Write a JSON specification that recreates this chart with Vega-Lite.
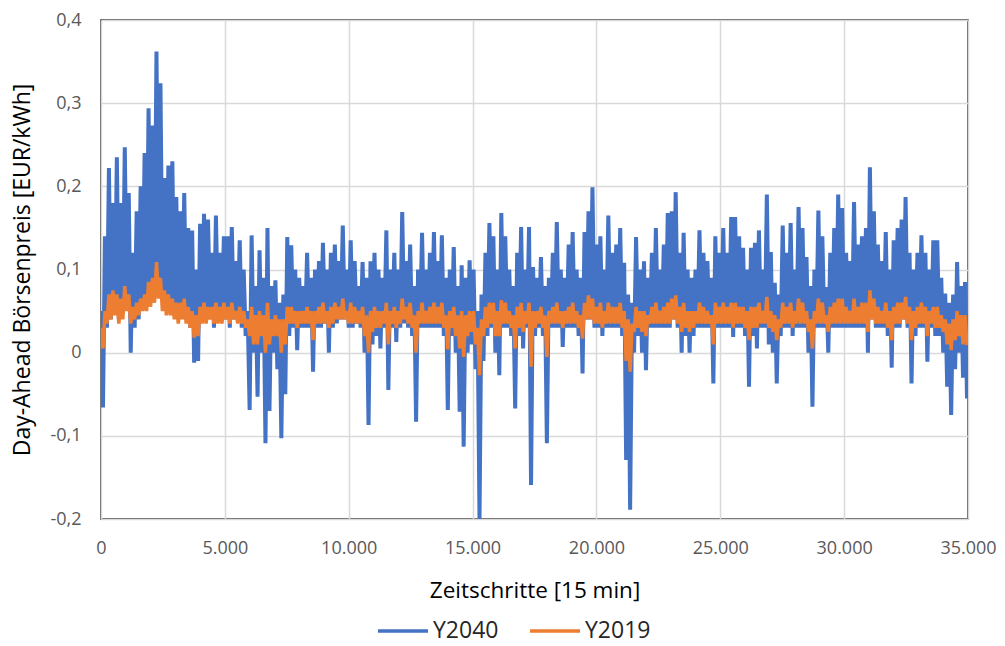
{
"$schema": "https://vega.github.io/schema/vega-lite/v6.json",
"width": 867, "height": 499,
"autosize": {"type": "none"},
"padding": {"left": 101, "top": 20, "right": 37, "bottom": 127},
"background": "white",
"config": {"view": {"stroke": "#262626", "strokeWidth": 1.5}, "font": "Open Sans"},
"data": {"values": [
{"t":0,"a":0.05,"b":0.03},{"t":80,"a":-0.066,"b":0.005},{"t":160,"a":0.14,"b":0.05},{"t":240,"a":0.03,"b":0.035},{"t":320,"a":0.222,"b":0.07},{"t":400,"a":0.04,"b":0.04},{"t":480,"a":0.18,"b":0.075},{"t":560,"a":0.05,"b":0.045},{"t":640,"a":0.235,"b":0.07},{"t":720,"a":0.04,"b":0.035},
{"t":800,"a":0.18,"b":0.065},{"t":880,"a":0.05,"b":0.04},{"t":960,"a":0.247,"b":0.08},{"t":1040,"a":0.06,"b":0.05},{"t":1120,"a":0.192,"b":0.07},{"t":1200,"a":0.0,"b":0.035},{"t":1280,"a":0.12,"b":0.055},{"t":1360,"a":0.03,"b":0.04},{"t":1440,"a":0.17,"b":0.06},{"t":1520,"a":0.04,"b":0.045},
{"t":1600,"a":0.2,"b":0.065},{"t":1680,"a":0.06,"b":0.05},{"t":1760,"a":0.24,"b":0.07},{"t":1840,"a":0.06,"b":0.05},{"t":1920,"a":0.294,"b":0.085},{"t":2000,"a":0.07,"b":0.055},{"t":2080,"a":0.273,"b":0.09},{"t":2160,"a":0.08,"b":0.06},{"t":2240,"a":0.362,"b":0.109},{"t":2320,"a":0.09,"b":0.065},
{"t":2400,"a":0.324,"b":0.09},{"t":2480,"a":0.07,"b":0.05},{"t":2560,"a":0.21,"b":0.075},{"t":2640,"a":0.05,"b":0.045},{"t":2720,"a":0.225,"b":0.07},{"t":2800,"a":0.06,"b":0.045},{"t":2880,"a":0.23,"b":0.065},{"t":2960,"a":0.05,"b":0.04},{"t":3040,"a":0.187,"b":0.06},{"t":3120,"a":0.04,"b":0.035},
{"t":3200,"a":0.17,"b":0.06},{"t":3280,"a":0.05,"b":0.04},{"t":3360,"a":0.192,"b":0.065},{"t":3440,"a":0.04,"b":0.035},{"t":3520,"a":0.15,"b":0.055},{"t":3600,"a":0.03,"b":0.03},{"t":3680,"a":0.147,"b":0.05},{"t":3760,"a":-0.012,"b":0.018},{"t":3840,"a":0.1,"b":0.045},{"t":3920,"a":-0.01,"b":0.02},
{"t":4000,"a":0.155,"b":0.055},{"t":4080,"a":0.04,"b":0.035},{"t":4160,"a":0.167,"b":0.06},{"t":4240,"a":0.04,"b":0.035},{"t":4320,"a":0.16,"b":0.055},{"t":4400,"a":0.05,"b":0.04},{"t":4480,"a":0.12,"b":0.055},{"t":4560,"a":0.03,"b":0.035},{"t":4640,"a":0.165,"b":0.06},{"t":4720,"a":0.04,"b":0.035},
{"t":4800,"a":0.12,"b":0.055},{"t":4880,"a":0.04,"b":0.035},{"t":4960,"a":0.14,"b":0.06},{"t":5040,"a":0.04,"b":0.04},{"t":5120,"a":0.14,"b":0.055},{"t":5200,"a":0.03,"b":0.035},{"t":5280,"a":0.151,"b":0.06},{"t":5360,"a":0.04,"b":0.04},{"t":5440,"a":0.11,"b":0.05},{"t":5520,"a":0.04,"b":0.035},
{"t":5600,"a":0.135,"b":0.055},{"t":5680,"a":0.03,"b":0.035},{"t":5760,"a":0.1,"b":0.05},{"t":5840,"a":0.02,"b":0.03},{"t":5920,"a":0.05,"b":0.04},{"t":6000,"a":-0.069,"b":0.02},{"t":6080,"a":0.141,"b":0.055},{"t":6160,"a":0.0,"b":0.01},{"t":6240,"a":0.08,"b":0.045},{"t":6320,"a":-0.053,"b":0.01},
{"t":6400,"a":0.123,"b":0.05},{"t":6480,"a":0.0,"b":0.02},{"t":6560,"a":0.09,"b":0.045},{"t":6640,"a":-0.109,"b":0.0},{"t":6720,"a":0.15,"b":0.06},{"t":6800,"a":-0.07,"b":0.01},{"t":6880,"a":0.08,"b":0.04},{"t":6960,"a":0.0,"b":0.02},{"t":7040,"a":0.087,"b":0.045},{"t":7120,"a":-0.02,"b":0.02},
{"t":7200,"a":0.06,"b":0.04},{"t":7280,"a":-0.103,"b":0.0},{"t":7360,"a":0.07,"b":0.04},{"t":7440,"a":-0.05,"b":0.01},{"t":7520,"a":0.139,"b":0.055},{"t":7600,"a":0.02,"b":0.035},{"t":7680,"a":0.129,"b":0.055},{"t":7760,"a":0.03,"b":0.035},{"t":7840,"a":0.1,"b":0.05},{"t":7920,"a":0.003,"b":0.03},
{"t":8000,"a":0.09,"b":0.05},{"t":8080,"a":0.03,"b":0.035},{"t":8160,"a":0.08,"b":0.05},{"t":8240,"a":0.03,"b":0.035},{"t":8320,"a":0.12,"b":0.055},{"t":8400,"a":0.03,"b":0.035},{"t":8480,"a":0.09,"b":0.05},{"t":8560,"a":-0.023,"b":0.015},{"t":8640,"a":0.1,"b":0.05},{"t":8720,"a":0.03,"b":0.035},
{"t":8800,"a":0.11,"b":0.055},{"t":8880,"a":0.03,"b":0.035},{"t":8960,"a":0.132,"b":0.06},{"t":9040,"a":0.035,"b":0.035},{"t":9120,"a":0.1,"b":0.05},{"t":9200,"a":0.0,"b":0.03},{"t":9280,"a":0.12,"b":0.055},{"t":9360,"a":0.03,"b":0.035},{"t":9440,"a":0.13,"b":0.06},{"t":9520,"a":0.035,"b":0.04},
{"t":9600,"a":0.11,"b":0.055},{"t":9680,"a":0.04,"b":0.04},{"t":9760,"a":0.153,"b":0.065},{"t":9840,"a":0.04,"b":0.04},{"t":9920,"a":0.1,"b":0.05},{"t":10000,"a":0.03,"b":0.035},{"t":10080,"a":0.135,"b":0.06},{"t":10160,"a":0.03,"b":0.035},{"t":10240,"a":0.11,"b":0.055},{"t":10320,"a":0.035,"b":0.035},
{"t":10400,"a":0.08,"b":0.05},{"t":10480,"a":0.03,"b":0.035},{"t":10560,"a":0.109,"b":0.055},{"t":10640,"a":0.0,"b":0.02},{"t":10720,"a":0.09,"b":0.045},{"t":10800,"a":-0.087,"b":0.0},{"t":10880,"a":0.11,"b":0.05},{"t":10960,"a":0.01,"b":0.025},{"t":11040,"a":0.12,"b":0.055},{"t":11120,"a":0.02,"b":0.03},
{"t":11200,"a":0.1,"b":0.05},{"t":11280,"a":0.005,"b":0.03},{"t":11360,"a":0.09,"b":0.05},{"t":11440,"a":0.03,"b":0.035},{"t":11520,"a":0.147,"b":0.06},{"t":11600,"a":-0.045,"b":0.01},{"t":11680,"a":0.1,"b":0.05},{"t":11760,"a":0.03,"b":0.035},{"t":11840,"a":0.12,"b":0.055},{"t":11920,"a":0.013,"b":0.03},
{"t":12000,"a":0.1,"b":0.05},{"t":12080,"a":0.03,"b":0.035},{"t":12160,"a":0.169,"b":0.065},{"t":12240,"a":0.035,"b":0.04},{"t":12320,"a":0.11,"b":0.055},{"t":12400,"a":0.03,"b":0.035},{"t":12480,"a":0.13,"b":0.06},{"t":12560,"a":0.02,"b":0.03},{"t":12640,"a":0.08,"b":0.045},{"t":12720,"a":-0.083,"b":0.0},
{"t":12800,"a":0.1,"b":0.05},{"t":12880,"a":0.03,"b":0.035},{"t":12960,"a":0.144,"b":0.06},{"t":13040,"a":0.03,"b":0.035},{"t":13120,"a":0.1,"b":0.05},{"t":13200,"a":0.03,"b":0.035},{"t":13280,"a":0.12,"b":0.055},{"t":13360,"a":0.03,"b":0.035},{"t":13440,"a":0.145,"b":0.06},{"t":13520,"a":0.03,"b":0.035},
{"t":13600,"a":0.11,"b":0.055},{"t":13680,"a":0.03,"b":0.035},{"t":13760,"a":0.141,"b":0.06},{"t":13840,"a":0.02,"b":0.03},{"t":13920,"a":0.09,"b":0.045},{"t":14000,"a":-0.069,"b":0.004},{"t":14080,"a":0.1,"b":0.05},{"t":14160,"a":0.02,"b":0.03},{"t":14240,"a":0.127,"b":0.055},{"t":14320,"a":0.0,"b":0.02},
{"t":14400,"a":0.08,"b":0.045},{"t":14480,"a":-0.071,"b":0.005},{"t":14560,"a":0.105,"b":0.05},{"t":14640,"a":-0.113,"b":-0.005},{"t":14720,"a":0.09,"b":0.045},{"t":14800,"a":0.0,"b":0.02},{"t":14880,"a":0.111,"b":0.05},{"t":14960,"a":0.01,"b":0.025},{"t":15040,"a":0.1,"b":0.05},{"t":15120,"a":-0.02,"b":0.01},
{"t":15200,"a":0.05,"b":0.03},{"t":15280,"a":-0.2,"b":-0.027},{"t":15360,"a":0.07,"b":0.04},{"t":15440,"a":-0.01,"b":0.02},{"t":15520,"a":0.12,"b":0.055},{"t":15600,"a":0.02,"b":0.03},{"t":15680,"a":0.156,"b":0.06},{"t":15760,"a":0.03,"b":0.035},{"t":15840,"a":0.14,"b":0.06},{"t":15920,"a":0.0,"b":0.02},
{"t":16000,"a":0.1,"b":0.05},{"t":16080,"a":-0.027,"b":0.02},{"t":16160,"a":0.168,"b":0.063},{"t":16240,"a":0.03,"b":0.035},{"t":16320,"a":0.14,"b":0.06},{"t":16400,"a":0.03,"b":0.035},{"t":16480,"a":0.1,"b":0.05},{"t":16560,"a":0.02,"b":0.03},{"t":16640,"a":0.08,"b":0.045},{"t":16720,"a":-0.067,"b":0.005},
{"t":16800,"a":0.12,"b":0.055},{"t":16880,"a":0.02,"b":0.03},{"t":16960,"a":0.151,"b":0.06},{"t":17040,"a":0.005,"b":0.025},{"t":17120,"a":0.1,"b":0.05},{"t":17200,"a":0.03,"b":0.035},{"t":17280,"a":0.151,"b":0.06},{"t":17360,"a":-0.159,"b":-0.017},{"t":17440,"a":0.103,"b":0.05},{"t":17520,"a":0.02,"b":0.03},
{"t":17600,"a":0.09,"b":0.05},{"t":17680,"a":0.03,"b":0.035},{"t":17760,"a":0.115,"b":0.055},{"t":17840,"a":0.02,"b":0.03},{"t":17920,"a":0.08,"b":0.045},{"t":18000,"a":-0.109,"b":-0.005},{"t":18080,"a":0.09,"b":0.05},{"t":18160,"a":0.03,"b":0.035},{"t":18240,"a":0.12,"b":0.055},{"t":18320,"a":0.03,"b":0.035},
{"t":18400,"a":0.157,"b":0.06},{"t":18480,"a":0.03,"b":0.035},{"t":18560,"a":0.1,"b":0.05},{"t":18640,"a":0.007,"b":0.03},{"t":18720,"a":0.09,"b":0.05},{"t":18800,"a":0.03,"b":0.035},{"t":18880,"a":0.13,"b":0.055},{"t":18960,"a":0.03,"b":0.035},{"t":19040,"a":0.145,"b":0.06},{"t":19120,"a":0.03,"b":0.035},
{"t":19200,"a":0.1,"b":0.05},{"t":19280,"a":0.02,"b":0.03},{"t":19360,"a":0.09,"b":0.045},{"t":19440,"a":-0.025,"b":0.017},{"t":19520,"a":0.145,"b":0.06},{"t":19600,"a":0.04,"b":0.04},{"t":19680,"a":0.17,"b":0.069},{"t":19760,"a":0.04,"b":0.04},{"t":19840,"a":0.199,"b":0.065},{"t":19920,"a":0.03,"b":0.035},
{"t":20000,"a":0.13,"b":0.055},{"t":20080,"a":0.03,"b":0.035},{"t":20160,"a":0.14,"b":0.06},{"t":20240,"a":0.02,"b":0.03},{"t":20320,"a":0.1,"b":0.05},{"t":20400,"a":0.03,"b":0.035},{"t":20480,"a":0.165,"b":0.06},{"t":20560,"a":0.03,"b":0.035},{"t":20640,"a":0.12,"b":0.055},{"t":20720,"a":0.03,"b":0.035},
{"t":20800,"a":0.13,"b":0.055},{"t":20880,"a":0.03,"b":0.035},{"t":20960,"a":0.15,"b":0.06},{"t":21040,"a":0.02,"b":0.03},{"t":21120,"a":0.108,"b":0.05},{"t":21200,"a":-0.129,"b":-0.01},{"t":21280,"a":0.07,"b":0.04},{"t":21360,"a":-0.189,"b":-0.023},{"t":21440,"a":0.06,"b":0.035},{"t":21520,"a":0.0,"b":0.025},
{"t":21600,"a":0.139,"b":0.055},{"t":21680,"a":0.02,"b":0.03},{"t":21760,"a":0.1,"b":0.05},{"t":21840,"a":0.0,"b":0.025},{"t":21920,"a":0.11,"b":0.05},{"t":22000,"a":-0.021,"b":0.02},{"t":22080,"a":0.09,"b":0.045},{"t":22160,"a":0.03,"b":0.035},{"t":22240,"a":0.12,"b":0.055},{"t":22320,"a":0.03,"b":0.035},
{"t":22400,"a":0.15,"b":0.06},{"t":22480,"a":0.03,"b":0.035},{"t":22560,"a":0.1,"b":0.05},{"t":22640,"a":0.03,"b":0.035},{"t":22720,"a":0.13,"b":0.055},{"t":22800,"a":0.03,"b":0.035},{"t":22880,"a":0.168,"b":0.06},{"t":22960,"a":0.03,"b":0.035},{"t":23040,"a":0.17,"b":0.065},{"t":23120,"a":0.04,"b":0.04},
{"t":23200,"a":0.193,"b":0.069},{"t":23280,"a":0.03,"b":0.035},{"t":23360,"a":0.12,"b":0.055},{"t":23440,"a":0.0,"b":0.025},{"t":23520,"a":0.144,"b":0.06},{"t":23600,"a":0.02,"b":0.03},{"t":23680,"a":0.1,"b":0.05},{"t":23760,"a":0.0,"b":0.025},{"t":23840,"a":0.09,"b":0.05},{"t":23920,"a":0.02,"b":0.03},
{"t":24000,"a":0.1,"b":0.05},{"t":24080,"a":0.03,"b":0.035},{"t":24160,"a":0.147,"b":0.06},{"t":24240,"a":0.03,"b":0.035},{"t":24320,"a":0.12,"b":0.055},{"t":24400,"a":0.03,"b":0.035},{"t":24480,"a":0.11,"b":0.05},{"t":24560,"a":0.03,"b":0.035},{"t":24640,"a":0.09,"b":0.045},{"t":24720,"a":-0.037,"b":0.01},
{"t":24800,"a":0.14,"b":0.06},{"t":24880,"a":0.03,"b":0.035},{"t":24960,"a":0.12,"b":0.055},{"t":25040,"a":0.03,"b":0.035},{"t":25120,"a":0.15,"b":0.06},{"t":25200,"a":0.03,"b":0.035},{"t":25280,"a":0.12,"b":0.055},{"t":25360,"a":0.03,"b":0.035},{"t":25440,"a":0.163,"b":0.06},{"t":25520,"a":0.019,"b":0.03},
{"t":25600,"a":0.163,"b":0.06},{"t":25680,"a":0.03,"b":0.035},{"t":25760,"a":0.14,"b":0.055},{"t":25840,"a":0.03,"b":0.035},{"t":25920,"a":0.126,"b":0.055},{"t":26000,"a":0.02,"b":0.03},{"t":26080,"a":0.1,"b":0.05},{"t":26160,"a":-0.041,"b":0.015},{"t":26240,"a":0.126,"b":0.055},{"t":26320,"a":0.02,"b":0.03},
{"t":26400,"a":0.132,"b":0.055},{"t":26480,"a":0.005,"b":0.03},{"t":26560,"a":0.147,"b":0.06},{"t":26640,"a":0.03,"b":0.035},{"t":26720,"a":0.1,"b":0.05},{"t":26800,"a":0.03,"b":0.035},{"t":26880,"a":0.19,"b":0.067},{"t":26960,"a":0.01,"b":0.03},{"t":27040,"a":0.121,"b":0.05},{"t":27120,"a":0.0,"b":0.025},
{"t":27200,"a":0.084,"b":0.045},{"t":27280,"a":-0.037,"b":0.015},{"t":27360,"a":0.07,"b":0.04},{"t":27440,"a":0.02,"b":0.03},{"t":27520,"a":0.153,"b":0.06},{"t":27600,"a":0.03,"b":0.035},{"t":27680,"a":0.12,"b":0.055},{"t":27760,"a":0.03,"b":0.035},{"t":27840,"a":0.156,"b":0.06},{"t":27920,"a":0.02,"b":0.03},
{"t":28000,"a":0.1,"b":0.05},{"t":28080,"a":0.03,"b":0.035},{"t":28160,"a":0.175,"b":0.065},{"t":28240,"a":0.03,"b":0.035},{"t":28320,"a":0.15,"b":0.06},{"t":28400,"a":0.03,"b":0.035},{"t":28480,"a":0.115,"b":0.05},{"t":28560,"a":0.0,"b":0.025},{"t":28640,"a":0.08,"b":0.04},{"t":28720,"a":-0.065,"b":0.005},
{"t":28800,"a":0.1,"b":0.05},{"t":28880,"a":0.03,"b":0.035},{"t":28960,"a":0.171,"b":0.065},{"t":29040,"a":0.03,"b":0.035},{"t":29120,"a":0.14,"b":0.06},{"t":29200,"a":0.03,"b":0.035},{"t":29280,"a":0.079,"b":0.045},{"t":29360,"a":0.0,"b":0.025},{"t":29440,"a":0.12,"b":0.055},{"t":29520,"a":0.03,"b":0.035},
{"t":29600,"a":0.15,"b":0.06},{"t":29680,"a":0.03,"b":0.035},{"t":29760,"a":0.19,"b":0.065},{"t":29840,"a":0.03,"b":0.035},{"t":29920,"a":0.174,"b":0.065},{"t":30000,"a":0.03,"b":0.035},{"t":30080,"a":0.12,"b":0.055},{"t":30160,"a":0.03,"b":0.035},{"t":30240,"a":0.11,"b":0.05},{"t":30320,"a":0.03,"b":0.035},
{"t":30400,"a":0.181,"b":0.065},{"t":30480,"a":0.03,"b":0.035},{"t":30560,"a":0.13,"b":0.055},{"t":30640,"a":0.03,"b":0.035},{"t":30720,"a":0.14,"b":0.06},{"t":30800,"a":0.03,"b":0.035},{"t":30880,"a":0.15,"b":0.06},{"t":30960,"a":0.0,"b":0.025},{"t":31040,"a":0.223,"b":0.075},{"t":31120,"a":0.04,"b":0.04},
{"t":31200,"a":0.17,"b":0.065},{"t":31280,"a":0.03,"b":0.035},{"t":31360,"a":0.13,"b":0.055},{"t":31440,"a":0.03,"b":0.035},{"t":31520,"a":0.11,"b":0.05},{"t":31600,"a":0.03,"b":0.035},{"t":31680,"a":0.145,"b":0.06},{"t":31760,"a":0.02,"b":0.03},{"t":31840,"a":0.1,"b":0.05},{"t":31920,"a":-0.018,"b":0.015},
{"t":32000,"a":0.135,"b":0.055},{"t":32080,"a":0.03,"b":0.035},{"t":32160,"a":0.15,"b":0.06},{"t":32240,"a":0.03,"b":0.035},{"t":32320,"a":0.16,"b":0.06},{"t":32400,"a":0.04,"b":0.04},{"t":32480,"a":0.187,"b":0.067},{"t":32560,"a":0.03,"b":0.035},{"t":32640,"a":0.12,"b":0.055},{"t":32720,"a":-0.037,"b":0.015},
{"t":32800,"a":0.1,"b":0.05},{"t":32880,"a":0.02,"b":0.03},{"t":32960,"a":0.12,"b":0.055},{"t":33040,"a":0.03,"b":0.035},{"t":33120,"a":0.141,"b":0.06},{"t":33200,"a":0.03,"b":0.035},{"t":33280,"a":0.12,"b":0.055},{"t":33360,"a":-0.011,"b":0.02},{"t":33440,"a":0.1,"b":0.05},{"t":33520,"a":0.03,"b":0.035},
{"t":33600,"a":0.135,"b":0.055},{"t":33680,"a":0.02,"b":0.03},{"t":33760,"a":0.135,"b":0.055},{"t":33840,"a":0.02,"b":0.03},{"t":33920,"a":0.09,"b":0.045},{"t":34000,"a":0.0,"b":0.025},{"t":34080,"a":0.071,"b":0.04},{"t":34160,"a":-0.041,"b":0.01},{"t":34240,"a":0.06,"b":0.035},{"t":34320,"a":-0.075,"b":0.003},
{"t":34400,"a":0.07,"b":0.04},{"t":34480,"a":-0.02,"b":0.015},{"t":34560,"a":0.109,"b":0.05},{"t":34640,"a":0.0,"b":0.02},{"t":34720,"a":0.08,"b":0.045},{"t":34800,"a":-0.03,"b":0.01},{"t":34880,"a":0.085,"b":0.045},{"t":34960,"a":-0.055,"b":0.009}
]},
"encoding": {
  "x": {"field": "t", "type": "quantitative",
    "scale": {"domain": [0, 35000], "nice": false},
    "axis": {"values": [0,5000,10000,15000,20000,25000,30000,35000], "title": "Zeitschritte [15 min]",
      "labelExpr": "replace(format(datum.value, ','), ',', '.')",
      "labelFlush": false, "labelOverlap": false,
      "domain": false, "ticks": false, "grid": true, "gridColor": "#d9d9d9", "gridWidth": 1.5,
      "labelFontSize": 18, "labelColor": "#595959", "labelPadding": 20, "labelFont": "Open Sans",
      "titleFontSize": 22.5, "titleFontWeight": "normal", "titleColor": "#000000", "titlePadding": 22, "titleFont": "Open Sans"}}
},
"layer": [
  {"mark": {"type": "line", "strokeWidth": 4, "clip": true},
   "encoding": {
     "y": {"field": "a", "type": "quantitative",
       "scale": {"domain": [-0.2, 0.4], "nice": false, "zero": false},
       "axis": {"values": [-0.2,-0.1,0,0.1,0.2,0.3,0.4], "title": "Day-Ahead Börsenpreis [EUR/kWh]",
         "labelExpr": "datum.value == 0 ? '0' : replace(replace(format(datum.value, '.1f'), '.', ','), '\u2212', '-')",
         "domain": false, "ticks": false, "grid": true, "gridColor": "#d9d9d9", "gridWidth": 1.5,
         "labelFontSize": 18, "labelColor": "#595959", "labelPadding": 20, "labelFont": "Open Sans",
         "titleFontSize": 23, "titleFontWeight": "normal", "titleColor": "#000000", "titlePadding": 15, "titleFont": "Open Sans"}},
     "color": {"datum": "Y2040", "type": "nominal",
       "scale": {"domain": ["Y2040", "Y2019"], "range": ["#4472C4", "#ED7D31"]},
       "legend": {"title": null, "orient": "none", "direction": "horizontal", "legendX": 275, "legendY": 584,
         "symbolType": "stroke", "symbolSize": 2500, "symbolStrokeWidth": 3.5,
         "labelFontSize": 23, "labelColor": "#262626", "labelFont": "Open Sans", "columnPadding": 24, "labelOffset": 3}}
   }},
  {"mark": {"type": "line", "strokeWidth": 3.5, "clip": true},
   "encoding": {
     "y": {"field": "b", "type": "quantitative"},
     "color": {"datum": "Y2019", "type": "nominal"}
   }}
]
}
